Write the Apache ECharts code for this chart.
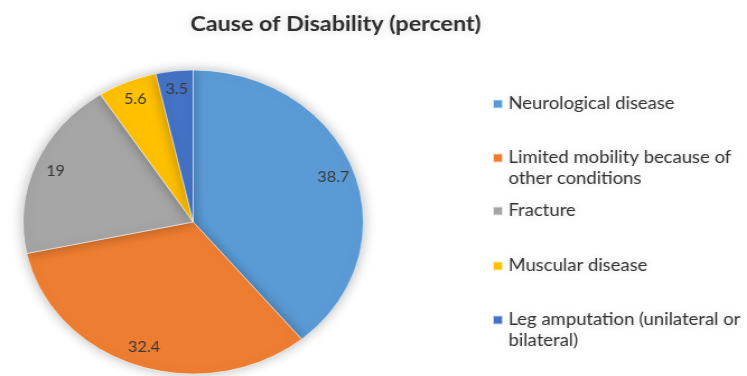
<!DOCTYPE html>
<html>
<head>
<meta charset="utf-8">
<script src="https://cdn.jsdelivr.net/npm/echarts@6/dist/echarts.min.js"></script>
<style>
  html, body { margin: 0; padding: 0; background: #fff; overflow: hidden; }
  #wrap { width: 747px; height: 376px; overflow: hidden; }
  /* drawn narrower, then widened so the pie reads as a slightly wide ellipse */
  #chart { width: 667px; height: 376px; transform: scaleX(1.12); transform-origin: 0 0; }
</style>
</head>
<body>
<div id="wrap"><div id="chart"></div></div>
<script>
const titleText = 'Cause of Disability (percent)';
const causes = [
  'Neurological disease',
  'Limited mobility because of other conditions',
  'Fracture',
  'Muscular disease',
  'Leg amputation (unilateral or bilateral)'
];
const legendLabels = [
  'Neurological disease',
  'Limited mobility because of\nother conditions',
  'Fracture',
  'Muscular disease',
  'Leg amputation (unilateral or\nbilateral)'
];
const percents = [38.7, 32.4, 19, 5.6, 3.5];
const colors = ['#5B9BD5', '#ED7D31', '#A5A5A5', '#FFC000', '#4472C4'];

const FONT = 'Lato, "Open Sans", sans-serif';
const pieCenter = [172.5, 222];
const R = 152;

const pieData = causes.map((name, i) => ({ name, value: percents[i], itemStyle: { color: colors[i] } }));
const labelData = causes.map((name, i) => ({ name, value: percents[i] }));

// one legend block per cause; wrapped names get a blank leading line
// so the marker stays level with their first line
const legendTops = [93.5, 126.5, 200.5, 255.5, 288.5];
const legends = causes.map((name, i) => {
  const wrapped = legendLabels[i].indexOf('\n') >= 0;
  return {
    data: [name],
    orient: 'vertical',
    left: 439,
    top: legendTops[i],
    padding: 0,
    itemWidth: 9,
    itemHeight: 9,
    icon: 'rect',
    selectedMode: false,
    formatter: n => (wrapped ? '\n' : '') + legendLabels[causes.indexOf(n)],
    textStyle: {
      fontFamily: FONT,
      fontSize: 16.5,
      lineHeight: 21,
      color: '#333333',
      textShadowColor: 'rgba(0,0,0,0.16)',
      textShadowBlur: 9
    }
  };
});

const chart = echarts.init(document.getElementById('chart'), null, { renderer: 'canvas' });
chart.setOption({
  backgroundColor: '#ffffff',
  animation: false,
  title: {
    text: titleText,
    left: 170,
    top: 14,
    padding: 0,
    textStyle: {
      fontFamily: FONT,
      fontWeight: 'bold',
      fontSize: 20.8,
      color: '#2e2e2e',
      textShadowColor: 'rgba(0,0,0,0.18)',
      textShadowBlur: 10
    }
  },
  legend: legends,
  series: [
    {
      type: 'pie',
      center: pieCenter,
      radius: [0, R],
      startAngle: 90,
      clockwise: true,
      avoidLabelOverlap: false,
      label: { show: false },
      labelLine: { show: false },
      itemStyle: {
        borderColor: 'rgba(255,255,255,0.7)',
        borderWidth: 0.8,
        shadowColor: 'rgba(0,0,0,0.28)',
        shadowBlur: 12
      },
      emphasis: { disabled: true },
      data: pieData
    },
    {
      // transparent ring that carries the value labels near the rim
      type: 'pie',
      center: pieCenter,
      radius: [108, R],
      startAngle: 90,
      clockwise: true,
      silent: true,
      avoidLabelOverlap: false,
      legendHoverLink: false,
      itemStyle: { color: 'rgba(0,0,0,0)', borderWidth: 0 },
      label: {
        show: true,
        position: 'inside',
        formatter: p => String(p.value),
        fontFamily: FONT,
        fontSize: 14.5,
        color: '#3a3a3a'
      },
      labelLine: { show: false },
      emphasis: { disabled: true },
      data: labelData
    }
  ]
});
</script>
</body>
</html>
